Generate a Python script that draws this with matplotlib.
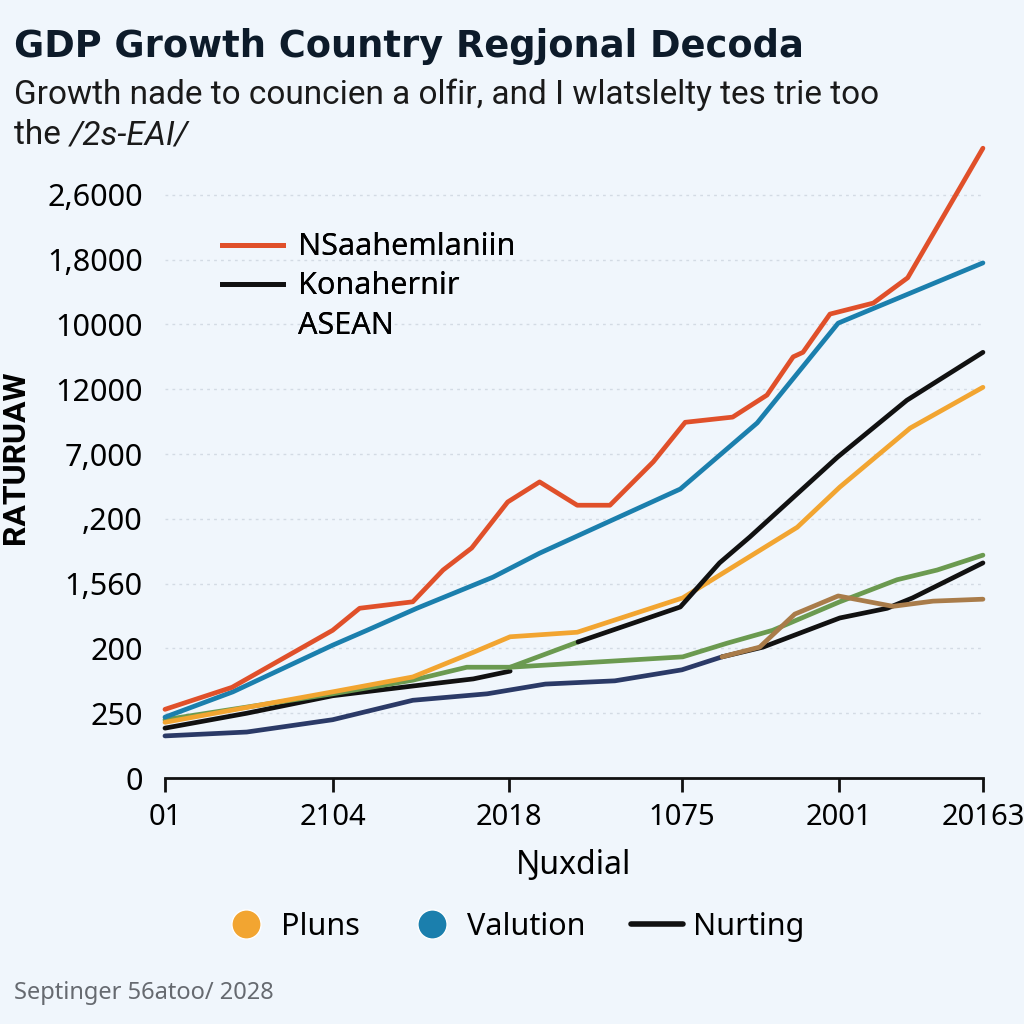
import matplotlib.pyplot as plt
from matplotlib.lines import Line2D

plt.rcParams['font.family'] = ['Noto Sans', 'DejaVu Sans']

BG = '#f0f6fc'

# x positions (axis units) and values (grid units)
red_x = [0, 0.82, 2.05, 2.38, 3.03, 3.40, 3.75, 4.19, 4.58, 5.04, 5.44, 5.97, 6.36, 6.94, 7.36, 7.68, 7.80, 8.13, 8.66, 9.08, 10]
red_y = [1.06, 1.40, 2.28, 2.62, 2.72, 3.21, 3.55, 4.26, 4.57, 4.21, 4.21, 4.88, 5.49, 5.57, 5.91, 6.50, 6.57, 7.16, 7.33, 7.72, 9.72]

blue_x = [0, 0.83, 2.05, 2.47, 3.08, 4.01, 4.58, 6.30, 7.24, 8.23, 10]
blue_y = [0.94, 1.33, 2.05, 2.28, 2.62, 3.10, 3.47, 4.46, 5.48, 7.02, 7.95]

yellow_x = [0, 2.05, 3.03, 3.77, 4.22, 5.04, 6.33, 7.73, 8.25, 9.11, 10]
yellow_y = [0.86, 1.33, 1.56, 1.94, 2.18, 2.25, 2.78, 3.87, 4.49, 5.40, 6.03]

black_up_x = [5.05, 6.30, 6.78, 7.15, 8.22, 9.07, 10]
black_up_y = [2.10, 2.64, 3.32, 3.72, 4.95, 5.83, 6.57]

black_early_x = [0, 1.00, 2.05, 3.03, 3.77, 4.22]
black_early_y = [0.77, 1.00, 1.27, 1.42, 1.53, 1.65]

black_late_x = [6.81, 7.31, 8.25, 8.83, 9.14, 10]
black_late_y = [1.87, 2.02, 2.47, 2.62, 2.78, 3.32]

green_x = [0, 2.05, 3.03, 3.69, 4.22, 6.33, 6.87, 7.43, 8.25, 8.95, 9.44, 10]
green_y = [0.90, 1.30, 1.51, 1.71, 1.71, 1.87, 2.08, 2.28, 2.72, 3.06, 3.21, 3.44]

green_branch_x = [4.22, 5.05]
green_branch_y = [1.71, 2.10]

navy_x = [0, 1.00, 2.05, 3.03, 3.94, 4.65, 5.50, 6.32, 6.81]
navy_y = [0.65, 0.71, 0.90, 1.20, 1.30, 1.45, 1.50, 1.67, 1.87]

brown_x = [6.81, 7.27, 7.70, 8.23, 8.90, 9.39, 10]
brown_y = [1.87, 2.02, 2.53, 2.81, 2.65, 2.73, 2.76]

x_ticks = [0, 2.05, 4.21, 6.32, 8.24, 10]
x_labels = ['01', '2104', '2018', '1075', '2001', '20163']
y_ticks = [0, 1, 2, 3, 4, 5, 6, 7, 8, 9]
y_labels = ['0', '250', '200', '1,560', ',200', '7,000', '12000', '10000', '1,8000', '2,6000']

RED = '#e0502a'
BLUE = '#1b7fad'
YELLOW = '#f2a531'
BLACK = '#111111'
GREEN = '#6b9a50'
NAVY = '#2b3a67'
BROWN = '#a97c4a'

fig = plt.figure(figsize=(10.24, 10.24), dpi=100, facecolor=BG)
ax = fig.add_axes([0.1611, 0.2402, 0.7988, 0.6328], facecolor=BG)

lw = 3.4
kw = dict(lw=lw, solid_capstyle='round', solid_joinstyle='round', clip_on=False)
ax.plot(navy_x, navy_y, color=NAVY, **kw)
ax.plot(black_early_x, black_early_y, color=BLACK, **kw)
ax.plot(green_x, green_y, color=GREEN, **kw)
ax.plot(green_branch_x, green_branch_y, color=GREEN, **kw)
ax.plot(yellow_x, yellow_y, color=YELLOW, **kw)
ax.plot(black_late_x, black_late_y, color=BLACK, **kw)
ax.plot(brown_x, brown_y, color=BROWN, **kw)
ax.plot(black_up_x, black_up_y, color=BLACK, **kw)
ax.plot(blue_x, blue_y, color=BLUE, **kw)
ax.plot(red_x, red_y, color=RED, **kw)

ax.set_xlim(0, 10)
ax.set_ylim(0, 10)

for s in ['top', 'right', 'left']:
    ax.spines[s].set_visible(False)
ax.spines['bottom'].set_linewidth(2)
ax.spines['bottom'].set_color('#111111')

ax.set_xticks(x_ticks)
ax.set_xticklabels(x_labels, fontsize=21)
ax.set_xticks(x_ticks[1:-1], minor=True)
ax.tick_params(axis='x', which='major', direction='out', length=10, width=2, color='#111111', pad=8)
ax.tick_params(axis='x', which='minor', direction='in', length=11, width=2, color='#111111')

ax.set_yticks(y_ticks)
ax.set_yticklabels(y_labels, fontsize=22)
ax.tick_params(axis='y', length=0, pad=16)
ax.yaxis.grid(True, linestyle=(0, (2, 3)), color='#d3dbe4', lw=1)
ax.set_axisbelow(True)

ax.set_ylabel('RATURUAW', fontsize=23, fontweight='bold', family='Roboto')
ax.yaxis.set_label_coords(-0.165, 0.495)
ax.set_xlabel('Ŋuxdial', fontsize=23, labelpad=12)

# top legend
top_handles = [Line2D([], [], color=RED, lw=3.5),
               Line2D([], [], color=BLACK, lw=3.5),
               Line2D([], [], color='none')]
leg = ax.legend(top_handles, ['NSaahemlaniin', 'Konahernir', 'ASEAN'],
                loc='upper left', bbox_to_anchor=(0.19, 0.8), bbox_transform=fig.transFigure,
                frameon=False, fontsize=22, handlelength=2.0, handletextpad=0.5, labelspacing=0.3)
ax.add_artist(leg)

# bottom legend
bot_handles = [Line2D([], [], marker='o', ls='none', markersize=21, color=YELLOW, markeredgecolor='white', markeredgewidth=1),
               Line2D([], [], marker='o', ls='none', markersize=21, color=BLUE, markeredgecolor='white', markeredgewidth=1),
               Line2D([], [], color=BLACK, lw=4, solid_capstyle='round')]
fig.legend(bot_handles, ['Pluns', 'Valution', 'Nurting'], loc='center', bbox_to_anchor=(0.5, 0.095),
           ncol=3, frameon=False, fontsize=22, handlelength=1.7, handletextpad=0.3, columnspacing=1.5)

fig.text(0.014, 0.955, 'GDP Growth Country Regjonal Decoda', fontsize=26.5, fontweight='bold',
         color='#0d1b2a', va='center', ha='left', family='DejaVu Sans')
fig.text(0.014, 0.907, 'Growth nade to councien a olfir, and I wlatslelty tes trie too',
         fontsize=24, color='#1a1a1a', va='center', ha='left', family='Roboto')
t_the = fig.text(0.014, 0.868, 'the ', fontsize=24, color='#1a1a1a', va='center', ha='left', family='Roboto')
fig.add_artist(plt.Annotation('/2s-EAI/', xy=(1, 0), xycoords=t_the, va='bottom', ha='left',
                              fontsize=24, color='#1a1a1a', family='Roboto', style='italic'))
fig.text(0.014, 0.030, 'Septinger 56atoo/ 2028', fontsize=17, color='#666a70', va='center', ha='left')

fig.savefig('out.png', dpi=100, facecolor=BG)
